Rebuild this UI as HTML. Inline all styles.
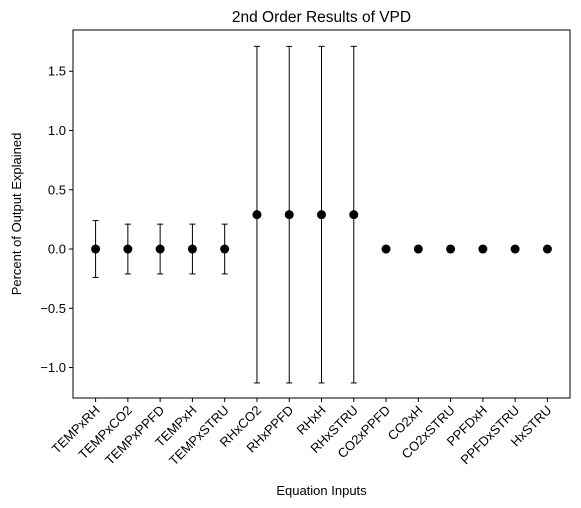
<!DOCTYPE html>
<html><head><meta charset="utf-8"><style>body{margin:0;background:#fff}svg{display:block;font-family:"Liberation Sans",sans-serif}</style></head>
<body>
<svg id="chart" width="581" height="508"></svg>
<script>
const categories=["TEMPxRH","TEMPxCO2","TEMPxPPFD","TEMPxH","TEMPxSTRU","RHxCO2","RHxPPFD","RHxH","RHxSTRU","CO2xPPFD","CO2xH","CO2xSTRU","PPFDxH","PPFDxSTRU","HxSTRU"];
const values=[0,0,0,0,0,0.29,0.29,0.29,0.29,0,0,0,0,0,0];
const errors=[0.24,0.21,0.21,0.21,0.21,1.42,1.42,1.42,1.42,0,0,0,0,0,0];
const yTicks=[-1.0,-0.5,0.0,0.5,1.0,1.5];
const yTickLabels=["−1.0","−0.5","0.0","0.5","1.0","1.5"];
const NS="http://www.w3.org/2000/svg";
const svg=document.getElementById('chart');
const L=73,R=570,T=30,B=398;
const yMin=-1.257,yMax=1.848;
const xMin=-0.7,xMax=categories.length-1+0.7;
function x(i){return L+(i-xMin)/(xMax-xMin)*(R-L);}
function y(v){return B-(v-yMin)/(yMax-yMin)*(B-T);}
function mk(t,a){const e=document.createElementNS(NS,t);for(const k in a)e.setAttribute(k,a[k]);svg.appendChild(e);return e;}
let e;
e=mk('rect',{x:L,y:T,width:R-L,height:B-T,fill:'none',stroke:'#000','stroke-width':1});


yTicks.forEach((v,i)=>{
 e=mk('line',{x1:L-4,x2:L,y1:y(v),y2:y(v),stroke:'#000'});
 
 
 e=mk('text',{x:L-7,y:y(v)+4.5,'text-anchor':'end','font-size':13});e.textContent=yTickLabels[i];
 
 
});
categories.forEach((c,i)=>{
 const cx=x(i);
 e=mk('line',{x1:cx,x2:cx,y1:B,y2:B+4,stroke:'#000'});
 
 
 e=mk('text',{x:cx+5,y:B+13,'text-anchor':'end','font-size':13,transform:`rotate(-45 ${cx+5} ${B+13})`});e.textContent=c;
 
 
 const v=values[i],er=errors[i];
 if(er>0){
  e=mk('line',{x1:cx,x2:cx,y1:y(v+er),y2:y(v-er),stroke:'#000','stroke-width':1});
  
  
  [v+er,v-er].forEach(w=>{e=mk('line',{x1:cx-3,x2:cx+3,y1:y(w),y2:y(w),stroke:'#000'});
  
  });
 }
 e=mk('circle',{cx:cx,cy:y(v),r:4.5,fill:'#000'});
 
 
});
e=mk('text',{x:(L+R)/2,y:22,'text-anchor':'middle','font-size':15.5});e.textContent='2nd Order Results of VPD';


e=mk('text',{x:(L+R)/2,y:495,'text-anchor':'middle','font-size':13});e.textContent='Equation Inputs';


e=mk('text',{x:21,y:(T+B)/2,'text-anchor':'middle','font-size':13,transform:`rotate(-90 21 ${(T+B)/2})`});e.textContent='Percent of Output Explained';


</script>
</body></html>
